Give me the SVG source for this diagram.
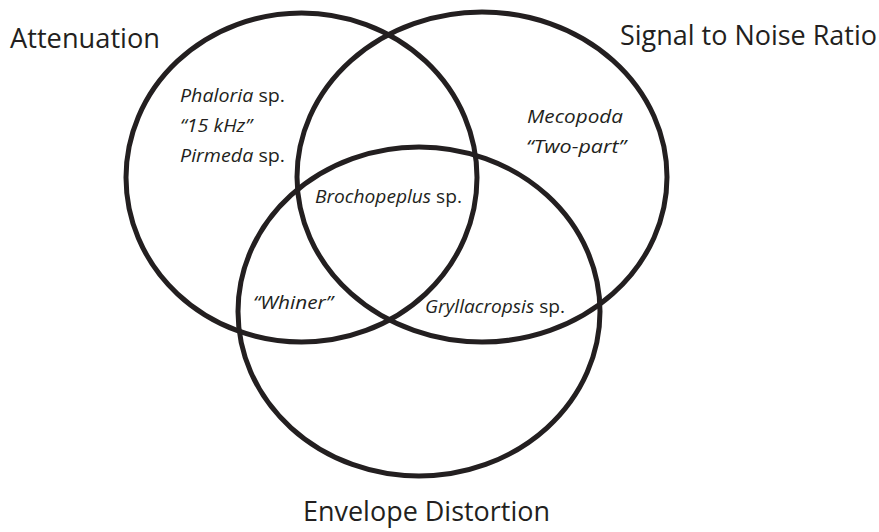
<svg xmlns="http://www.w3.org/2000/svg" width="879" height="532" viewBox="0 0 879 532">
<style>
.set{fill:none;stroke:#231f20;stroke-width:5}
.title{font-family:"Open Sans","Liberation Sans",sans-serif;font-size:27px;fill:#231f20}
.lab{font-family:"Open Sans","Liberation Sans",sans-serif;font-size:18px;font-style:italic;fill:#231f20}
.up{font-style:normal}
</style>
<rect width="879" height="532" fill="#fff"/>
<g id="attenuation">
<ellipse class="set" cx="301.5" cy="177.5" rx="175.5" ry="164.5"/>
<text class="title" x="10" y="48" textLength="150" lengthAdjust="spacingAndGlyphs">Attenuation</text>
</g>
<g id="snr">
<ellipse class="set" cx="482" cy="177" rx="185" ry="165"/>
<text class="title" x="620" y="45" textLength="257" lengthAdjust="spacingAndGlyphs">Signal to Noise Ratio</text>
</g>
<g id="envelope">
<ellipse class="set" cx="419" cy="311.5" rx="181" ry="164.5"/>
<text class="title" x="303" y="521" textLength="247" lengthAdjust="spacingAndGlyphs">Envelope Distortion</text>
</g>
<g id="labels">
<text class="lab" x="180" y="102" textLength="105" lengthAdjust="spacingAndGlyphs">Phaloria <tspan class="up">sp.</tspan></text>
<text class="lab" x="180" y="132" textLength="72" lengthAdjust="spacingAndGlyphs">“15 kHz”</text>
<text class="lab" x="180" y="162" textLength="105" lengthAdjust="spacingAndGlyphs">Pirmeda <tspan class="up">sp.</tspan></text>
<text class="lab" x="527" y="123" textLength="96" lengthAdjust="spacingAndGlyphs">Mecopoda</text>
<text class="lab" x="526" y="153" textLength="100" lengthAdjust="spacingAndGlyphs">“Two-part”</text>
<text class="lab" x="315" y="203" textLength="147" lengthAdjust="spacingAndGlyphs">Brochopeplus <tspan class="up">sp.</tspan></text>
<text class="lab" x="253" y="309" textLength="80" lengthAdjust="spacingAndGlyphs">“Whiner”</text>
<text class="lab" x="425" y="313" textLength="140" lengthAdjust="spacingAndGlyphs">Gryllacropsis <tspan class="up">sp.</tspan></text>
</g>
</svg>
